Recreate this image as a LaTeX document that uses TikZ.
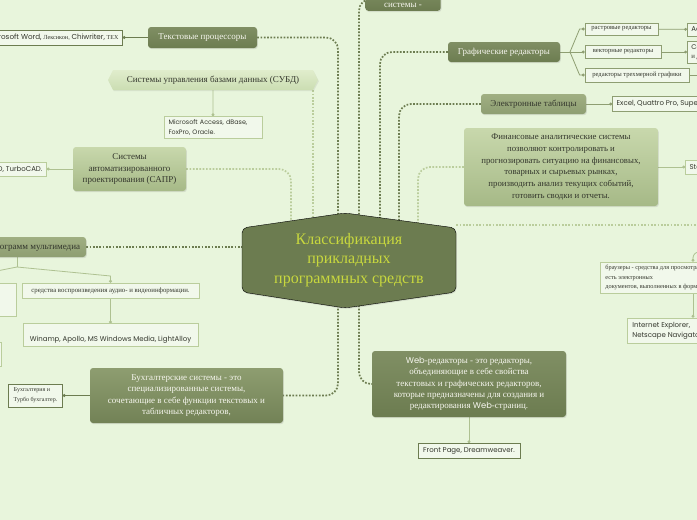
\documentclass[tikz,border=0pt]{standalone}
\usepackage{fontspec}
\setmainfont{Liberation Serif}
\newfontfamily\gothic{Poppins}
\usetikzlibrary{shapes.symbols, arrows.meta, positioning, calc, backgrounds, shadows}
\definecolor{mapbg}{RGB}{232,245,220}
\definecolor{olivedark}{RGB}{108,124,80}
\definecolor{olivetop}{RGB}{128,143,100}
\definecolor{olivemid}{RGB}{142,158,114}
\definecolor{olivemidtop}{RGB}{160,175,130}
\definecolor{buhtop}{RGB}{142,157,112}
\definecolor{buhbot}{RGB}{114,130,86}
\definecolor{sagetop}{RGB}{200,216,172}
\definecolor{sagebot}{RGB}{166,185,135}
\definecolor{subdtop}{RGB}{224,237,204}
\definecolor{subdbot}{RGB}{203,221,178}
\definecolor{sagepale}{RGB}{186,205,156}
\definecolor{leaffill}{RGB}{241,248,235}
\definecolor{titleyellow}{RGB}{200,216,62}
\definecolor{inkgray}{RGB}{52,55,45}
\definecolor{cream}{RGB}{246,246,238}
\tikzset{
  topicD/.style={rectangle, rounded corners=3pt, top color=olivetop, bottom color=olivedark, text=cream, align=center, font=\fontsize{9}{11.6}\selectfont, inner sep=3pt, drop shadow={opacity=0.2, shadow xshift=0.8pt, shadow yshift=-1.2pt}},
  topicM/.style={topicD, top color=olivemidtop, bottom color=olivemid, text=inkgray},
  topicL/.style={topicD, top color=sagetop, bottom color=sagebot, text=inkgray},
  topicB/.style={topicD, top color=buhtop, bottom color=buhbot},
  leafD/.style={rectangle, draw=olivedark, fill=leaffill, line width=0.8pt, text=inkgray, align=center, font=\fontsize{6.8}{9}\selectfont, inner xsep=4pt, inner ysep=2pt},
  leafM/.style={leafD, draw=olivemid},
  leafL/.style={leafD, draw=sagepale},
  sans/.style={font=\gothic\fontsize{7}{10}\selectfont},
  dotD/.style={olivedark, line width=1.7pt, dash pattern=on 1.7pt off 1.6pt, rounded corners=12pt},
  dotL/.style={dotD, sagepale},
  linkD/.style={olivedark, line width=0.8pt, -{Circle[length=2.8pt]}},
  linkM/.style={linkD, olivemid},
  linkL/.style={linkD, sagepale!85!olivedark},
}

\begin{document}
\begin{tikzpicture}[x=1pt, y=-1pt]
\useasboundingbox (0,0) rectangle (697,520);

% centre
\draw[fill=olivedark, rounded corners=5pt, drop shadow={opacity=0.2, shadow xshift=0.8pt, shadow yshift=-1.2pt}]
  (242,228) -- (345,213) -- (456,228) -- (456,292) -- (345,308) -- (242,292) -- cycle;
\node (main) [minimum width=214pt, minimum height=64pt, align=center, text=titleyellow, font=\fontsize{16}{19.5}\selectfont] at (349,260)
  {Классификация\\прикладных\\программных средств};

% upper left branches
\node (tp) [topicD, minimum width=109pt, minimum height=21pt] at (202.5,37.5) {Текстовые процессоры};
\node (msw) [leafD, left=25pt of tp, minimum height=15pt] {{\gothic\fontsize{7.2}{9}\selectfont Microsoft Word,} {\fontsize{6.2}{9}\selectfont Лексикон,} {\gothic\fontsize{7.2}{9}\selectfont Chiwriter,} {\fontsize{6}{9}\selectfont TEX}};
\node (subd) [signal, signal to=east and west, signal pointer angle=126, top color=subdtop, bottom color=subdbot, text=inkgray, font=\fontsize{9}{11.6}\selectfont, minimum width=210pt, minimum height=20pt, inner sep=2pt, drop shadow={opacity=0.15, shadow xshift=0.8pt, shadow yshift=-1.2pt}] at (213,80) {Системы управления базами данных (СУБД)};
\node (acc) [leafL, below=26pt of subd, text width=89pt, align=left, inner xsep=4.5pt, minimum height=22pt, font=\gothic\fontsize{6.4}{9.4}\selectfont] {Microsoft Access, dBase,\\FoxPro, Oracle.};
\node (cad) [topicL, minimum width=113pt, minimum height=44pt] at (129.5,169) {Системы\\автоматизированного\\проектирования (САПР)};
\node (cadl) [leafL, sans, left=26pt of cad, minimum height=14pt] {AutoCAD, TurboCAD.};

% multimedia
\node (mm) [topicM, minimum width=138pt, minimum height=20pt] at (17,247) {Системы программ мультимедиа};
\coordinate (mmfork) at (17,267);
\coordinate (avifork) at (110.5,276);
\node (anim) [leafL, minimum width=60pt, minimum height=33pt, anchor=east] at (17,299.5) {};
\node (animsw) [leafL, minimum width=50pt, minimum height=24pt, anchor=east] at (2,354) {};
\node (avi) [leafL, minimum width=177pt, minimum height=15pt] at (110.5,290.5) {средства воспроизведения аудио- и видеоинформации.};
\node (win) [leafL, sans, below=25pt of avi, minimum width=175pt, text height=16pt, text depth=2.5pt, inner ysep=2pt] {Winamp, Apollo, MS Windows Media, LightAlloy};

% lower left
\node (buh) [topicB, minimum width=193pt, minimum height=55pt] at (186.5,395.5) {Бухгалтерские системы - это\\специализированные системы,\\сочетающие в себе функции текстовых и\\табличных редакторов,};
\node (buhl) [leafD, left=27pt of buh, align=left, font=\fontsize{6}{10}\selectfont, minimum height=23pt, inner xsep=5pt] {Бухгалтерия и\\Турбо бухгалтер.};

% lower right
\node (web) [topicD, minimum width=194pt, minimum height=66pt, font=\fontsize{9}{11.3}\selectfont] at (469,384) {{\gothic\fontsize{8.4}{11.3}\selectfont Web}-редакторы - это редакторы,\\объединяющие в себе свойства\\текстовых и графических редакторов,\\которые предназначены для создания и\\редактирования {\gothic\fontsize{8.4}{11.3}\selectfont Web}-страниц.};
\node (fp) [leafD, sans, below=26pt of web, minimum width=102pt, minimum height=15pt] {Front Page, Dreamweaver.};

% top and upper right
\node (sys) [topicD, minimum width=70pt, anchor=south] at (403,11) {Информационные\\системы -};
\node (gr) [topicD, minimum width=112pt, minimum height=20pt] at (504,52) {Графические редакторы};
\coordinate (grfork) at (570,52);
\node (ras) [leafM, minimum width=73pt, minimum height=12pt, inner ysep=1pt, font=\fontsize{6.6}{9}\selectfont] at (621.5,29) {растровые редакторы};
\node (vec) [leafM, minimum width=76pt, minimum height=13pt, inner ysep=1pt, font=\fontsize{6.6}{9}\selectfont] at (623,52) {векторные редакторы};
\node (tri) [leafM, minimum width=104pt, minimum height=14pt, inner ysep=1pt, font=\fontsize{6.6}{9}\selectfont] at (637,75) {редакторы трехмерной графики};
\node (rasl) [leafM, sans, anchor=west, minimum height=13pt] at (687,29.5) {Adobe Photoshop};
\node (vecl) [leafM, anchor=west, align=left, minimum height=22pt] at (687,52) {{\gothic CorelDRAW, Adobe Illustrator}\\и др.};
\coordinate (trix) at (730,75);
\node (et) [topicM, minimum width=105pt, minimum height=20pt] at (533.5,104) {Электронные таблицы};
\node (etl) [leafM, sans, right=26pt of et, minimum height=15pt] {Excel, Quattro Pro, SuperCalc};
\node (fin) [topicL, minimum width=194pt, minimum height=78pt, font=\fontsize{8.8}{11.9}\selectfont] at (561,167) {Финансовые аналитические системы\\позволяют контролировать и\\прогнозировать ситуацию на финансовых,\\товарных и сырьевых рынках,\\производить анализ текущих событий,\\готовить сводки и отчеты.};
\node (finl) [leafL, sans, right=27pt of fin, minimum height=14pt] {Statistica};

% browsers
\coordinate (brwhub) at (730,225);
\node (brw) [leafL, anchor=west, align=left, font=\fontsize{6.3}{9.4}\selectfont, minimum height=31pt, inner xsep=5pt] at (600,277.5) {браузеры - средства для просмотра Web-страниц, то\\есть электронных\\документов, выполненных в формате HTML.};
\node (ie) [leafL, sans, anchor=west, align=left, minimum height=25pt, inner xsep=5pt] at (627,330.5) {Internet Explorer,\\Netscape Navigator};

\begin{scope}[on background layer]
\fill[mapbg] (0,0) rectangle (697,520);
% dotted links to the centre
\draw[dotD] (tp.east) -| (338,0 |- main.north);
\draw[dotD] (359,0 |- main.north) |- (sys.west);
\draw[dotL] (313,0 |- subd.south) -- (313,0 |- main.north);
\draw[dotL] (cad.east) -| (291,0 |- main.north);
\draw[dotD] (mm.east) -- (main.west |- mm.east);
\draw[dotD] (gr.west) -| (380,0 |- main.north);
\draw[dotD] (et.west) -| (399,0 |- main.north);
\draw[dotL] (fin.west) -| (418,0 |- main.north);
\draw[dotL] (main.east |- brwhub) -- (brwhub);
\draw[dotD] (338,0 |- main.south) |- (buh.east);
\draw[dotD] (359,0 |- main.south) |- (web.west);
% solid links to the leaves
\draw[linkD] (tp) -- (msw);
\draw[linkL] (subd) -- (acc);
\draw[linkL] (cad) -- (cadl);
\draw[linkL, -] (mm.south) -- (mmfork);
\draw[linkL] (mmfork) -- (avifork) -- (avi.north);
\draw[linkL] (mmfork) -- (anim.north |- 0,273) -- (anim.north);
\draw[linkL] (avi) -- (win);
\draw[linkD] (buh) -- (buhl);
\draw[linkL] (web) -- (fp);
\draw[linkM, -] (gr.east) -- (grfork);
\draw[linkM] (grfork) -- ([xshift=-5pt]ras.west) -- (ras.west);
\draw[linkM] (grfork) -- (vec.west);
\draw[linkM] (grfork) -- ([xshift=-5pt]tri.west) -- (tri.west);
\draw[linkM] (ras) -- (rasl);
\draw[linkM] (vec) -- (vecl);
\draw[linkM, -] (tri) -- (trix);
\draw[linkM] (et) -- (etl);
\draw[linkL] (fin) -- (finl);
\draw[linkL, rounded corners=6pt] (brwhub |- 0,252) -| (693,0 |- brw.north);
\draw[linkL] (693,0 |- brw.south) -- (693,0 |- ie.north);
\end{scope}
\end{tikzpicture}
\end{document}
